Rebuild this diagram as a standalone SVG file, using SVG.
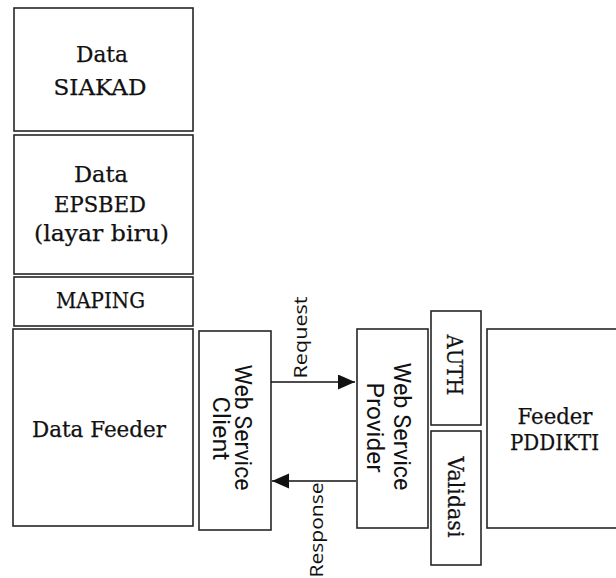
<svg xmlns="http://www.w3.org/2000/svg" width="616" height="578" viewBox="0 0 616 578">
<style>
.box{fill:#fff;stroke:#262626;stroke-width:1.6}
.serif{font-family:"DejaVu Serif","Liberation Serif",serif;font-size:21.5px;fill:#111;text-anchor:middle;stroke:#111;stroke-width:0.25}
.sans{font-family:Roboto,"Liberation Sans",sans-serif;font-size:23px;fill:#111;text-anchor:middle}
.lbl{font-family:"Open Sans","Liberation Sans",sans-serif;font-size:17.5px;fill:#111;text-anchor:middle}
.conn{stroke:#111;stroke-width:1.6;fill:none}
</style>
<defs>
<marker id="arr" markerUnits="userSpaceOnUse" markerWidth="18" markerHeight="16" refX="17" refY="7.5" orient="auto">
<path d="M0,0 L17,7.5 L0,15 Z" fill="#111"/>
</marker>
</defs>
<rect width="616" height="578" fill="#fff"/>
<g id="siakad">
<rect class="box" x="14" y="8" width="179" height="123"/>
<text class="serif" x="102" y="62" textLength="52" lengthAdjust="spacingAndGlyphs">Data</text>
<text class="serif" x="100" y="95" textLength="93" lengthAdjust="spacingAndGlyphs">SIAKAD</text>
</g>
<g id="epsbed">
<rect class="box" x="14" y="135" width="179" height="139"/>
<text class="serif" x="101" y="182" textLength="54" lengthAdjust="spacingAndGlyphs">Data</text>
<text class="serif" x="100" y="212" textLength="92" lengthAdjust="spacingAndGlyphs">EPSBED</text>
<text class="serif" x="101.5" y="241" textLength="135" lengthAdjust="spacingAndGlyphs">(layar biru)</text>
</g>
<g id="maping">
<rect class="box" x="14" y="277" width="179" height="49"/>
<text class="serif" x="100.5" y="308" textLength="89" lengthAdjust="spacingAndGlyphs">MAPING</text>
</g>
<g id="datafeeder">
<rect class="box" x="13" y="329" width="180" height="197"/>
<text class="serif" x="99" y="437" textLength="134" lengthAdjust="spacingAndGlyphs">Data Feeder</text>
</g>
<g id="wsclient">
<rect class="box" x="199" y="331" width="72" height="199"/>
<text class="sans" transform="translate(235,427.5) rotate(90)" textLength="126" lengthAdjust="spacingAndGlyphs">Web Service</text>
<text class="sans" transform="translate(213,428.5) rotate(90)" textLength="64" lengthAdjust="spacingAndGlyphs">Client</text>
</g>
<g id="wsprovider">
<rect class="box" x="357" y="329" width="71" height="199"/>
<text class="sans" transform="translate(394,426.5) rotate(90)" textLength="128" lengthAdjust="spacingAndGlyphs">Web Service</text>
<text class="sans" transform="translate(367,427.5) rotate(90)" textLength="90" lengthAdjust="spacingAndGlyphs">Provider</text>
</g>
<g id="auth">
<rect class="box" x="431" y="311" width="50" height="114"/>
<text class="serif" style="font-size:23px" transform="translate(447,365) rotate(90)" textLength="61" lengthAdjust="spacingAndGlyphs">AUTH</text>
</g>
<g id="validasi">
<rect class="box" x="431" y="431" width="50" height="134"/>
<text class="serif" style="font-size:22.5px" transform="translate(448,497) rotate(90)" textLength="81" lengthAdjust="spacingAndGlyphs">Validasi</text>
</g>
<g id="feederpddikti">
<rect class="box" x="487" y="329" width="140" height="199"/>
<text class="serif" x="555" y="424" textLength="75" lengthAdjust="spacingAndGlyphs">Feeder</text>
<text class="serif" x="554.5" y="450" textLength="89" lengthAdjust="spacingAndGlyphs">PDDIKTI</text>
</g>
<g id="connectors">
<line class="conn" x1="271" y1="382" x2="355" y2="382" marker-end="url(#arr)"/>
<text class="lbl" transform="translate(307,337.5) rotate(-90)" textLength="82" lengthAdjust="spacingAndGlyphs">Request</text>
<line class="conn" x1="356" y1="481" x2="272" y2="481" marker-end="url(#arr)"/>
<text class="lbl" transform="translate(323,530) rotate(-90)" textLength="95" lengthAdjust="spacingAndGlyphs">Response</text>
</g>
</svg>
